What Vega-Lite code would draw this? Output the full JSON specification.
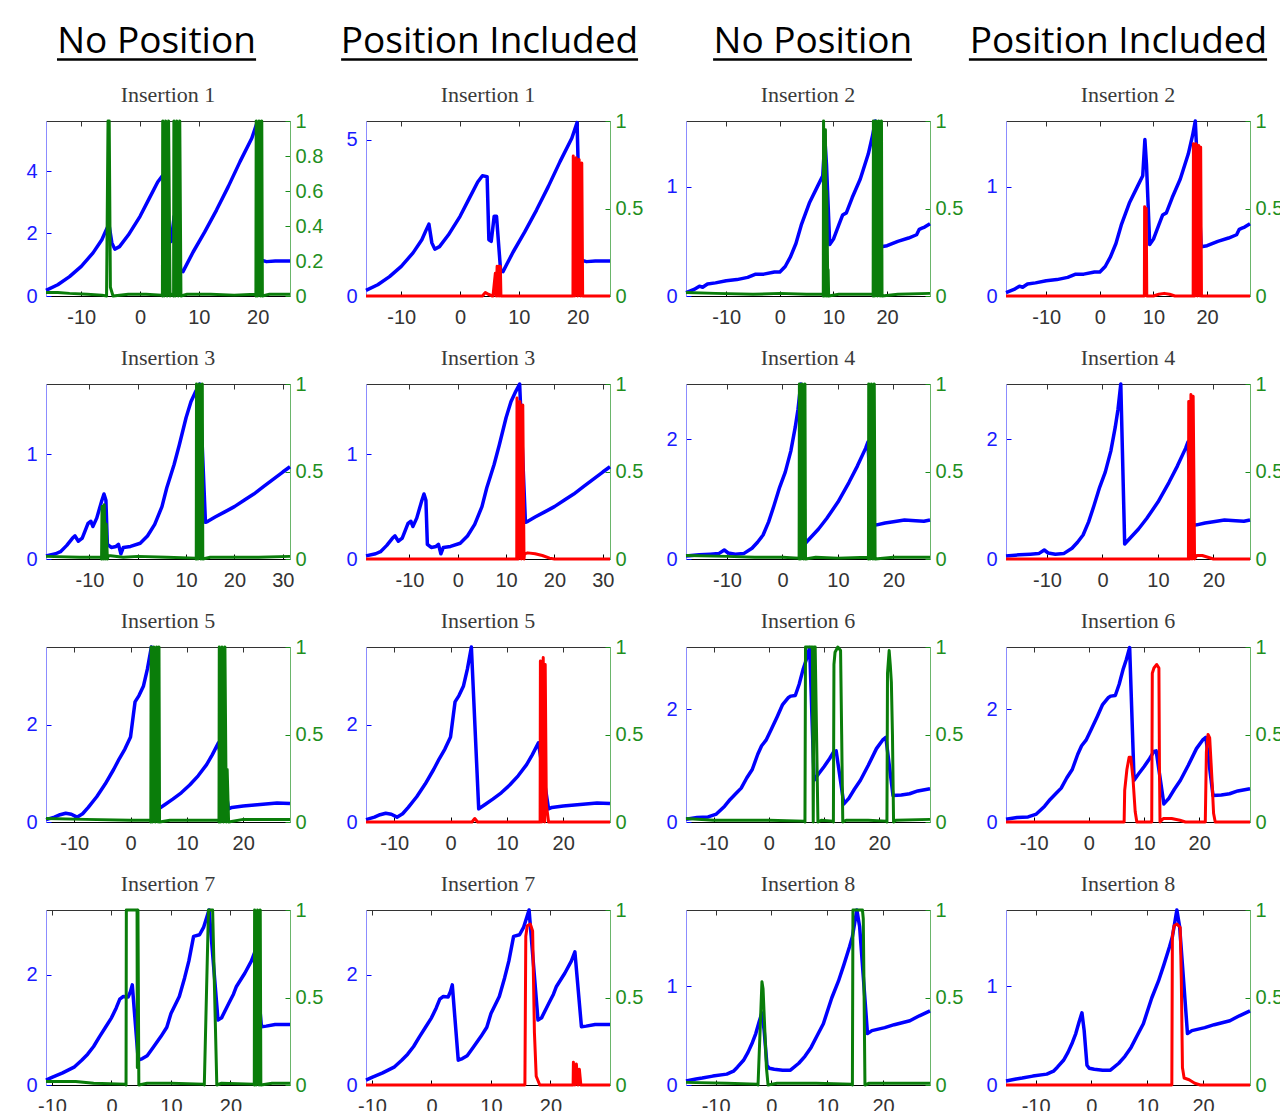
{
"$schema": "https://vega.github.io/schema/vega-lite/v6.json",
"padding": {"left": 25, "top": 8, "right": 5, "bottom": 5},
"background": "white",
"columns": 4,
"spacing": {"row": 88, "column": 76},
"bounds": "flush",
"datasets": {
"blue": [
{"i":1,"x":-16,"y":0.18},{"i":1,"x":-14,"y":0.36},{"i":1,"x":-12,"y":0.62},{"i":1,"x":-10,"y":0.95},{"i":1,"x":-8,"y":1.38},{"i":1,"x":-6.5,"y":1.8},{"i":1,"x":-5.8,"y":2.1},{"i":1,"x":-5.3,"y":2.3},{"i":1,"x":-4.8,"y":1.7},{"i":1,"x":-4.3,"y":1.5},{"i":1,"x":-3.5,"y":1.58},{"i":1,"x":-2,"y":1.95},{"i":1,"x":0,"y":2.55},{"i":1,"x":1.5,"y":3.1},{"i":1,"x":3,"y":3.65},{"i":1,"x":3.8,"y":3.85},{"i":1,"x":4.6,"y":3.82},{"i":1,"x":4.9,"y":1.8},{"i":1,"x":5.3,"y":1.75},{"i":1,"x":5.8,"y":2.55},{"i":1,"x":6.2,"y":2.55},{"i":1,"x":6.9,"y":0.8},{"i":1,"x":7.3,"y":0.78},{"i":1,"x":9,"y":1.4},{"i":1,"x":11,"y":2.05},{"i":1,"x":13,"y":2.75},{"i":1,"x":15,"y":3.5},{"i":1,"x":17,"y":4.3},{"i":1,"x":19,"y":5.05},{"i":1,"x":19.9,"y":5.55},{"i":1,"x":20.5,"y":1.15},{"i":1,"x":21.5,"y":1.1},{"i":1,"x":23,"y":1.12},{"i":1,"x":25.5,"y":1.12},
{"i":2,"x":-17.5,"y":0.03},{"i":2,"x":-16,"y":0.06},{"i":2,"x":-15,"y":0.09},{"i":2,"x":-14.4,"y":0.08},{"i":2,"x":-13.5,"y":0.11},{"i":2,"x":-12,"y":0.12},{"i":2,"x":-10,"y":0.14},{"i":2,"x":-8,"y":0.15},{"i":2,"x":-6,"y":0.17},{"i":2,"x":-4.5,"y":0.2},{"i":2,"x":-3,"y":0.2},{"i":2,"x":-1,"y":0.22},{"i":2,"x":0,"y":0.22},{"i":2,"x":1,"y":0.27},{"i":2,"x":2,"y":0.36},{"i":2,"x":3,"y":0.48},{"i":2,"x":4,"y":0.65},{"i":2,"x":5.5,"y":0.85},{"i":2,"x":7,"y":1.0},{"i":2,"x":8,"y":1.1},{"i":2,"x":8.4,"y":1.43},{"i":2,"x":8.7,"y":1.2},{"i":2,"x":9.3,"y":0.47},{"i":2,"x":10,"y":0.52},{"i":2,"x":11,"y":0.65},{"i":2,"x":11.7,"y":0.74},{"i":2,"x":12.4,"y":0.76},{"i":2,"x":13.5,"y":0.9},{"i":2,"x":15,"y":1.07},{"i":2,"x":16.5,"y":1.3},{"i":2,"x":17.3,"y":1.47},{"i":2,"x":17.8,"y":1.6},{"i":2,"x":18.9,"y":0.45},{"i":2,"x":20,"y":0.46},{"i":2,"x":22,"y":0.5},{"i":2,"x":24,"y":0.53},{"i":2,"x":25.5,"y":0.56},{"i":2,"x":26,"y":0.61},{"i":2,"x":26.5,"y":0.62},{"i":2,"x":27,"y":0.63},{"i":2,"x":28,"y":0.66},
{"i":3,"x":-19,"y":0.03},{"i":3,"x":-17,"y":0.05},{"i":3,"x":-16,"y":0.07},{"i":3,"x":-14.7,"y":0.13},{"i":3,"x":-13.5,"y":0.2},{"i":3,"x":-13,"y":0.22},{"i":3,"x":-12.3,"y":0.17},{"i":3,"x":-11.5,"y":0.2},{"i":3,"x":-10.3,"y":0.34},{"i":3,"x":-9.7,"y":0.36},{"i":3,"x":-9.3,"y":0.31},{"i":3,"x":-8.5,"y":0.39},{"i":3,"x":-7.5,"y":0.55},{"i":3,"x":-7,"y":0.62},{"i":3,"x":-6.6,"y":0.56},{"i":3,"x":-6.3,"y":0.14},{"i":3,"x":-5.5,"y":0.11},{"i":3,"x":-4.5,"y":0.12},{"i":3,"x":-4,"y":0.14},{"i":3,"x":-3.5,"y":0.05},{"i":3,"x":-3,"y":0.11},{"i":3,"x":-1.5,"y":0.12},{"i":3,"x":0.5,"y":0.15},{"i":3,"x":2,"y":0.22},{"i":3,"x":3.5,"y":0.33},{"i":3,"x":5,"y":0.5},{"i":3,"x":6,"y":0.68},{"i":3,"x":7.5,"y":0.9},{"i":3,"x":8.6,"y":1.09},{"i":3,"x":10,"y":1.35},{"i":3,"x":11,"y":1.5},{"i":3,"x":12,"y":1.6},{"i":3,"x":12.8,"y":1.67},{"i":3,"x":14,"y":0.35},{"i":3,"x":14.5,"y":0.36},{"i":3,"x":16,"y":0.4},{"i":3,"x":18,"y":0.45},{"i":3,"x":20,"y":0.5},{"i":3,"x":22,"y":0.56},{"i":3,"x":24,"y":0.62},{"i":3,"x":26,"y":0.69},{"i":3,"x":28,"y":0.76},{"i":3,"x":30,"y":0.83},{"i":3,"x":31.5,"y":0.88},
{"i":4,"x":-17.4,"y":0.05},{"i":4,"x":-15,"y":0.07},{"i":4,"x":-13,"y":0.08},{"i":4,"x":-11.5,"y":0.09},{"i":4,"x":-10.5,"y":0.15},{"i":4,"x":-9.8,"y":0.1},{"i":4,"x":-8.5,"y":0.08},{"i":4,"x":-7,"y":0.09},{"i":4,"x":-5.5,"y":0.18},{"i":4,"x":-4.5,"y":0.28},{"i":4,"x":-3.5,"y":0.4},{"i":4,"x":-2.5,"y":0.62},{"i":4,"x":-1.5,"y":0.9},{"i":4,"x":-0.5,"y":1.2},{"i":4,"x":0.5,"y":1.45},{"i":4,"x":1.5,"y":1.8},{"i":4,"x":2.3,"y":2.2},{"i":4,"x":2.8,"y":2.5},{"i":4,"x":3.3,"y":2.92},{"i":4,"x":4,"y":0.25},{"i":4,"x":5,"y":0.35},{"i":4,"x":6.5,"y":0.5},{"i":4,"x":8,"y":0.68},{"i":4,"x":10,"y":0.95},{"i":4,"x":12,"y":1.28},{"i":4,"x":13.5,"y":1.55},{"i":4,"x":15,"y":1.85},{"i":4,"x":15.4,"y":1.95},{"i":4,"x":16.2,"y":0.56},{"i":4,"x":17,"y":0.57},{"i":4,"x":18.5,"y":0.6},{"i":4,"x":20,"y":0.62},{"i":4,"x":22,"y":0.65},{"i":4,"x":24,"y":0.64},{"i":4,"x":25.5,"y":0.63},{"i":4,"x":26.6,"y":0.65},
{"i":5,"x":-15,"y":0.05},{"i":5,"x":-13.5,"y":0.1},{"i":5,"x":-12.5,"y":0.15},{"i":5,"x":-11.5,"y":0.18},{"i":5,"x":-10.5,"y":0.16},{"i":5,"x":-9.5,"y":0.1},{"i":5,"x":-8.5,"y":0.17},{"i":5,"x":-7.5,"y":0.3},{"i":5,"x":-6,"y":0.52},{"i":5,"x":-4.5,"y":0.78},{"i":5,"x":-3,"y":1.08},{"i":5,"x":-2,"y":1.3},{"i":5,"x":-1,"y":1.5},{"i":5,"x":0,"y":1.75},{"i":5,"x":0.5,"y":2.2},{"i":5,"x":0.8,"y":2.47},{"i":5,"x":1.5,"y":2.6},{"i":5,"x":2.3,"y":2.8},{"i":5,"x":3,"y":3.15},{"i":5,"x":3.7,"y":3.6},{"i":5,"x":5,"y":0.27},{"i":5,"x":6,"y":0.35},{"i":5,"x":7.5,"y":0.47},{"i":5,"x":9,"y":0.6},{"i":5,"x":10.5,"y":0.76},{"i":5,"x":12,"y":0.95},{"i":5,"x":13.5,"y":1.18},{"i":5,"x":14.5,"y":1.38},{"i":5,"x":15.6,"y":1.63},{"i":5,"x":17.4,"y":0.27},{"i":5,"x":18,"y":0.3},{"i":5,"x":20,"y":0.33},{"i":5,"x":22,"y":0.35},{"i":5,"x":24,"y":0.37},{"i":5,"x":26,"y":0.39},{"i":5,"x":28.3,"y":0.38},
{"i":6,"x":-15,"y":0.05},{"i":6,"x":-13,"y":0.08},{"i":6,"x":-11,"y":0.09},{"i":6,"x":-9.5,"y":0.14},{"i":6,"x":-8,"y":0.28},{"i":6,"x":-7,"y":0.4},{"i":6,"x":-6,"y":0.5},{"i":6,"x":-5,"y":0.6},{"i":6,"x":-4,"y":0.78},{"i":6,"x":-3,"y":0.93},{"i":6,"x":-2,"y":1.2},{"i":6,"x":-1.3,"y":1.35},{"i":6,"x":-0.5,"y":1.45},{"i":6,"x":0.5,"y":1.65},{"i":6,"x":1.5,"y":1.86},{"i":6,"x":2.5,"y":2.08},{"i":6,"x":3.5,"y":2.2},{"i":6,"x":4,"y":2.23},{"i":6,"x":4.8,"y":2.24},{"i":6,"x":5.5,"y":2.44},{"i":6,"x":6.2,"y":2.7},{"i":6,"x":6.8,"y":2.88},{"i":6,"x":7.4,"y":3.09},{"i":6,"x":8.2,"y":0.74},{"i":6,"x":9,"y":0.85},{"i":6,"x":10,"y":0.98},{"i":6,"x":11,"y":1.12},{"i":6,"x":11.8,"y":1.25},{"i":6,"x":12.2,"y":1.26},{"i":6,"x":13.6,"y":0.32},{"i":6,"x":14.5,"y":0.42},{"i":6,"x":15.5,"y":0.58},{"i":6,"x":16.6,"y":0.74},{"i":6,"x":18,"y":1.0},{"i":6,"x":19.5,"y":1.3},{"i":6,"x":20.6,"y":1.45},{"i":6,"x":21.2,"y":1.5},{"i":6,"x":22.5,"y":0.47},{"i":6,"x":24,"y":0.48},{"i":6,"x":25.5,"y":0.5},{"i":6,"x":27,"y":0.55},{"i":6,"x":29.2,"y":0.59},
{"i":7,"x":-11,"y":0.09},{"i":7,"x":-10,"y":0.14},{"i":7,"x":-8.2,"y":0.22},{"i":7,"x":-6.2,"y":0.33},{"i":7,"x":-5,"y":0.45},{"i":7,"x":-4,"y":0.56},{"i":7,"x":-3,"y":0.7},{"i":7,"x":-2,"y":0.88},{"i":7,"x":-1,"y":1.05},{"i":7,"x":0,"y":1.22},{"i":7,"x":0.8,"y":1.4},{"i":7,"x":1.4,"y":1.56},{"i":7,"x":2,"y":1.61},{"i":7,"x":2.8,"y":1.6},{"i":7,"x":3.2,"y":1.7},{"i":7,"x":3.5,"y":1.82},{"i":7,"x":4.5,"y":0.45},{"i":7,"x":5.2,"y":0.48},{"i":7,"x":6,"y":0.53},{"i":7,"x":7,"y":0.68},{"i":7,"x":8.3,"y":0.88},{"i":7,"x":9.3,"y":1.05},{"i":7,"x":10,"y":1.3},{"i":7,"x":11.4,"y":1.61},{"i":7,"x":12.3,"y":1.95},{"i":7,"x":13,"y":2.25},{"i":7,"x":13.8,"y":2.7},{"i":7,"x":14.8,"y":2.73},{"i":7,"x":15.5,"y":2.87},{"i":7,"x":16.4,"y":3.18},{"i":7,"x":17.9,"y":1.18},{"i":7,"x":18.5,"y":1.22},{"i":7,"x":19.7,"y":1.48},{"i":7,"x":20.5,"y":1.65},{"i":7,"x":21,"y":1.79},{"i":7,"x":22.4,"y":2.03},{"i":7,"x":23.5,"y":2.25},{"i":7,"x":24.1,"y":2.42},{"i":7,"x":25.2,"y":1.06},{"i":7,"x":26,"y":1.07},{"i":7,"x":27.5,"y":1.1},{"i":7,"x":30,"y":1.1},
{"i":8,"x":-15.3,"y":0.04},{"i":8,"x":-13.5,"y":0.06},{"i":8,"x":-12.4,"y":0.07},{"i":8,"x":-10.5,"y":0.09},{"i":8,"x":-8,"y":0.11},{"i":8,"x":-6.8,"y":0.14},{"i":8,"x":-6.1,"y":0.18},{"i":8,"x":-5,"y":0.25},{"i":8,"x":-4.2,"y":0.33},{"i":8,"x":-3.4,"y":0.43},{"i":8,"x":-2.8,"y":0.52},{"i":8,"x":-2.2,"y":0.64},{"i":8,"x":-1.7,"y":0.73},{"i":8,"x":-1.3,"y":0.55},{"i":8,"x":-0.8,"y":0.2},{"i":8,"x":-0.4,"y":0.17},{"i":8,"x":0.5,"y":0.16},{"i":8,"x":2,"y":0.15},{"i":8,"x":3.4,"y":0.15},{"i":8,"x":4.9,"y":0.22},{"i":8,"x":6,"y":0.29},{"i":8,"x":7.1,"y":0.38},{"i":8,"x":8.2,"y":0.5},{"i":8,"x":9.3,"y":0.62},{"i":8,"x":10.8,"y":0.88},{"i":8,"x":12,"y":1.05},{"i":8,"x":13,"y":1.22},{"i":8,"x":14,"y":1.4},{"i":8,"x":14.5,"y":1.5},{"i":8,"x":15.3,"y":1.77},{"i":8,"x":15.8,"y":1.6},{"i":8,"x":17.2,"y":0.52},{"i":8,"x":18,"y":0.55},{"i":8,"x":20.3,"y":0.58},{"i":8,"x":22,"y":0.61},{"i":8,"x":24.8,"y":0.65},{"i":8,"x":26.5,"y":0.7},{"i":8,"x":28.4,"y":0.75}
],
"prob": [
{"p":"1n","x":-16,"y":0.02},{"p":"1n","x":-14,"y":0.02},{"p":"1n","x":-12,"y":0.015},{"p":"1n","x":-9,"y":0.01},{"p":"1n","x":-6.5,"y":0.005},{"p":"1n","x":-5.7,"y":0},{"p":"1n","x":-5.45,"y":1},{"p":"1n","x":-5.25,"y":1},{"p":"1n","x":-5.05,"y":0.05},{"p":"1n","x":-4.6,"y":0},{"p":"1n","x":-2,"y":0.01},{"p":"1n","x":1,"y":0.01},{"p":"1n","x":3.7,"y":0.005},{"p":"1n","x":3.8,"y":0},{"p":"1n","x":3.85,"y":1},{"p":"1n","x":4.1,"y":0},{"p":"1n","x":4.35,"y":1},{"p":"1n","x":4.6,"y":0},{"p":"1n","x":4.85,"y":1},{"p":"1n","x":5.1,"y":0},{"p":"1n","x":5.4,"y":0.01},{"p":"1n","x":5.7,"y":0},{"p":"1n","x":5.75,"y":1},{"p":"1n","x":6.0,"y":0},{"p":"1n","x":6.25,"y":1},{"p":"1n","x":6.5,"y":0},{"p":"1n","x":6.75,"y":1},{"p":"1n","x":6.95,"y":0},{"p":"1n","x":8,"y":0.01},{"p":"1n","x":12,"y":0.01},{"p":"1n","x":16,"y":0.005},{"p":"1n","x":19.6,"y":0.01},{"p":"1n","x":19.7,"y":0},{"p":"1n","x":19.75,"y":1},{"p":"1n","x":20.0,"y":0},{"p":"1n","x":20.25,"y":1},{"p":"1n","x":20.5,"y":0},{"p":"1n","x":20.7,"y":1},{"p":"1n","x":20.8,"y":0},{"p":"1n","x":22,"y":0.01},{"p":"1n","x":25.5,"y":0.01},
{"p":"1p","x":-16,"y":0},{"p":"1p","x":3.8,"y":0},{"p":"1p","x":4.3,"y":0.02},{"p":"1p","x":4.8,"y":0.01},{"p":"1p","x":5.5,"y":0},{"p":"1p","x":5.6,"y":0},{"p":"1p","x":6.0,"y":0.13},{"p":"1p","x":6.15,"y":0},{"p":"1p","x":6.3,"y":0.17},{"p":"1p","x":6.45,"y":0},{"p":"1p","x":6.6,"y":0.17},{"p":"1p","x":6.75,"y":0},{"p":"1p","x":6.85,"y":0.17},{"p":"1p","x":6.95,"y":0},{"p":"1p","x":7.5,"y":0},{"p":"1p","x":19.2,"y":0},{"p":"1p","x":19.25,"y":0.8},{"p":"1p","x":19.5,"y":0},{"p":"1p","x":19.75,"y":0.79},{"p":"1p","x":20.0,"y":0},{"p":"1p","x":20.25,"y":0.78},{"p":"1p","x":20.5,"y":0},{"p":"1p","x":20.7,"y":0.76},{"p":"1p","x":20.85,"y":0},{"p":"1p","x":25.5,"y":0},
{"p":"2n","x":-17.5,"y":0.02},{"p":"2n","x":-12,"y":0.015},{"p":"2n","x":-5,"y":0.01},{"p":"2n","x":0,"y":0.015},{"p":"2n","x":5,"y":0.01},{"p":"2n","x":8.0,"y":0.01},{"p":"2n","x":8.1,"y":0},{"p":"2n","x":8.15,"y":1},{"p":"2n","x":8.4,"y":0},{"p":"2n","x":8.5,"y":0.95},{"p":"2n","x":8.7,"y":0},{"p":"2n","x":8.75,"y":0.6},{"p":"2n","x":8.95,"y":0},{"p":"2n","x":9.0,"y":0.15},{"p":"2n","x":9.1,"y":0},{"p":"2n","x":11,"y":0.01},{"p":"2n","x":15,"y":0.01},{"p":"2n","x":17.3,"y":0.01},{"p":"2n","x":17.4,"y":0},{"p":"2n","x":17.45,"y":1},{"p":"2n","x":17.7,"y":0},{"p":"2n","x":17.95,"y":1},{"p":"2n","x":18.2,"y":0},{"p":"2n","x":18.45,"y":1},{"p":"2n","x":18.7,"y":0},{"p":"2n","x":18.95,"y":1},{"p":"2n","x":19.05,"y":0},{"p":"2n","x":22,"y":0.01},{"p":"2n","x":28,"y":0.015},
{"p":"2p","x":-17.5,"y":0},{"p":"2p","x":8.2,"y":0},{"p":"2p","x":8.3,"y":0},{"p":"2p","x":8.35,"y":0.51},{"p":"2p","x":8.55,"y":0.1},{"p":"2p","x":8.65,"y":0.5},{"p":"2p","x":8.75,"y":0},{"p":"2p","x":10,"y":0},{"p":"2p","x":11,"y":0.01},{"p":"2p","x":12,"y":0.015},{"p":"2p","x":13,"y":0.01},{"p":"2p","x":14,"y":0},{"p":"2p","x":17.3,"y":0},{"p":"2p","x":17.4,"y":0},{"p":"2p","x":17.45,"y":0.87},{"p":"2p","x":17.7,"y":0},{"p":"2p","x":17.95,"y":0.87},{"p":"2p","x":18.2,"y":0},{"p":"2p","x":18.45,"y":0.86},{"p":"2p","x":18.7,"y":0},{"p":"2p","x":18.8,"y":0.85},{"p":"2p","x":18.95,"y":0},{"p":"2p","x":28,"y":0},
{"p":"3n","x":-19,"y":0.015},{"p":"3n","x":-12,"y":0.01},{"p":"3n","x":-7.6,"y":0.01},{"p":"3n","x":-7.5,"y":0},{"p":"3n","x":-7.4,"y":0.3},{"p":"3n","x":-7.15,"y":0},{"p":"3n","x":-6.95,"y":0.31},{"p":"3n","x":-6.75,"y":0},{"p":"3n","x":-6.55,"y":0.2},{"p":"3n","x":-6.3,"y":0},{"p":"3n","x":-6.1,"y":0.02},{"p":"3n","x":-3,"y":0.01},{"p":"3n","x":0,"y":0.015},{"p":"3n","x":6,"y":0.01},{"p":"3n","x":12,"y":0.005},{"p":"3n","x":12.1,"y":0},{"p":"3n","x":12.15,"y":1},{"p":"3n","x":12.45,"y":0},{"p":"3n","x":12.75,"y":1},{"p":"3n","x":13.05,"y":0},{"p":"3n","x":13.35,"y":1},{"p":"3n","x":13.45,"y":0},{"p":"3n","x":15,"y":0.01},{"p":"3n","x":25,"y":0.01},{"p":"3n","x":31.5,"y":0.015},
{"p":"3p","x":-19,"y":0},{"p":"3p","x":12.1,"y":0},{"p":"3p","x":12.2,"y":0},{"p":"3p","x":12.25,"y":0.92},{"p":"3p","x":12.55,"y":0},{"p":"3p","x":12.85,"y":0.9},{"p":"3p","x":13.15,"y":0},{"p":"3p","x":13.45,"y":0.88},{"p":"3p","x":13.7,"y":0},{"p":"3p","x":13.8,"y":0.03},{"p":"3p","x":14.5,"y":0.035},{"p":"3p","x":16,"y":0.03},{"p":"3p","x":17.5,"y":0.02},{"p":"3p","x":19,"y":0.005},{"p":"3p","x":20,"y":0},{"p":"3p","x":31.5,"y":0},
{"p":"4n","x":-17.4,"y":0.02},{"p":"4n","x":-10,"y":0.015},{"p":"4n","x":-5,"y":0.01},{"p":"4n","x":0,"y":0.01},{"p":"4n","x":2.9,"y":0.005},{"p":"4n","x":3.0,"y":0},{"p":"4n","x":3.05,"y":1},{"p":"4n","x":3.3,"y":0},{"p":"4n","x":3.55,"y":1},{"p":"4n","x":3.8,"y":0},{"p":"4n","x":4.05,"y":1},{"p":"4n","x":4.15,"y":0},{"p":"4n","x":6,"y":0.01},{"p":"4n","x":10,"y":0.005},{"p":"4n","x":15.4,"y":0.01},{"p":"4n","x":15.5,"y":0},{"p":"4n","x":15.55,"y":1},{"p":"4n","x":15.8,"y":0},{"p":"4n","x":16.05,"y":1},{"p":"4n","x":16.3,"y":0},{"p":"4n","x":16.55,"y":1},{"p":"4n","x":16.7,"y":0},{"p":"4n","x":20,"y":0.01},{"p":"4n","x":26.6,"y":0.01},
{"p":"4p","x":-17.4,"y":0},{"p":"4p","x":15.4,"y":0},{"p":"4p","x":15.5,"y":0},{"p":"4p","x":15.55,"y":0.9},{"p":"4p","x":15.75,"y":0},{"p":"4p","x":15.95,"y":0.94},{"p":"4p","x":16.15,"y":0},{"p":"4p","x":16.35,"y":0.93},{"p":"4p","x":16.5,"y":0.4},{"p":"4p","x":16.6,"y":0},{"p":"4p","x":17,"y":0.02},{"p":"4p","x":18,"y":0.02},{"p":"4p","x":19,"y":0.01},{"p":"4p","x":20,"y":0},{"p":"4p","x":26.6,"y":0},
{"p":"5n","x":-15,"y":0.02},{"p":"5n","x":-8,"y":0.015},{"p":"5n","x":0,"y":0.01},{"p":"5n","x":3.5,"y":0.01},{"p":"5n","x":3.6,"y":0},{"p":"5n","x":3.65,"y":1},{"p":"5n","x":3.9,"y":0},{"p":"5n","x":4.15,"y":1},{"p":"5n","x":4.4,"y":0},{"p":"5n","x":4.65,"y":1},{"p":"5n","x":4.9,"y":0},{"p":"5n","x":5.05,"y":1},{"p":"5n","x":5.15,"y":0},{"p":"5n","x":7,"y":0.01},{"p":"5n","x":12,"y":0.01},{"p":"5n","x":15.6,"y":0.01},{"p":"5n","x":15.7,"y":0},{"p":"5n","x":15.75,"y":1},{"p":"5n","x":16.0,"y":0},{"p":"5n","x":16.25,"y":1},{"p":"5n","x":16.5,"y":0},{"p":"5n","x":16.75,"y":1},{"p":"5n","x":17.0,"y":0},{"p":"5n","x":17.15,"y":0.3},{"p":"5n","x":17.4,"y":0},{"p":"5n","x":20,"y":0.015},{"p":"5n","x":28.3,"y":0.015},
{"p":"5p","x":-15,"y":0},{"p":"5p","x":3.8,"y":0},{"p":"5p","x":4.3,"y":0.02},{"p":"5p","x":4.8,"y":0},{"p":"5p","x":15.8,"y":0},{"p":"5p","x":15.9,"y":0},{"p":"5p","x":15.95,"y":0.92},{"p":"5p","x":16.2,"y":0},{"p":"5p","x":16.45,"y":0.94},{"p":"5p","x":16.7,"y":0},{"p":"5p","x":16.8,"y":0.9},{"p":"5p","x":17.0,"y":0.1},{"p":"5p","x":17.4,"y":0},{"p":"5p","x":28.3,"y":0},
{"p":"6n","x":-15,"y":0.02},{"p":"6n","x":-10,"y":0.01},{"p":"6n","x":0,"y":0.01},{"p":"6n","x":6.5,"y":0.005},{"p":"6n","x":6.55,"y":0},{"p":"6n","x":6.65,"y":1},{"p":"6n","x":7.9,"y":1},{"p":"6n","x":8.05,"y":0},{"p":"6n","x":8.2,"y":1},{"p":"6n","x":8.4,"y":1},{"p":"6n","x":8.9,"y":0},{"p":"6n","x":9.5,"y":0.01},{"p":"6n","x":11.6,"y":0.005},{"p":"6n","x":11.7,"y":0},{"p":"6n","x":11.8,"y":0.9},{"p":"6n","x":12.0,"y":0.97},{"p":"6n","x":12.5,"y":1},{"p":"6n","x":13.0,"y":0.98},{"p":"6n","x":13.2,"y":0.5},{"p":"6n","x":13.4,"y":0},{"p":"6n","x":14,"y":0.01},{"p":"6n","x":18,"y":0.01},{"p":"6n","x":21.3,"y":0.005},{"p":"6n","x":21.4,"y":0},{"p":"6n","x":21.5,"y":0.85},{"p":"6n","x":21.8,"y":0.98},{"p":"6n","x":22.0,"y":0.9},{"p":"6n","x":22.2,"y":0.8},{"p":"6n","x":22.4,"y":0.5},{"p":"6n","x":22.6,"y":0},{"p":"6n","x":23,"y":0.01},{"p":"6n","x":29.2,"y":0.015},
{"p":"6p","x":-15,"y":0},{"p":"6p","x":6.3,"y":0},{"p":"6p","x":6.4,"y":0},{"p":"6p","x":6.5,"y":0.18},{"p":"6p","x":6.9,"y":0.3},{"p":"6p","x":7.3,"y":0.37},{"p":"6p","x":7.6,"y":0.37},{"p":"6p","x":8.0,"y":0.25},{"p":"6p","x":8.4,"y":0.06},{"p":"6p","x":8.7,"y":0},{"p":"6p","x":11.3,"y":0},{"p":"6p","x":11.4,"y":0},{"p":"6p","x":11.5,"y":0.85},{"p":"6p","x":11.8,"y":0.88},{"p":"6p","x":12.3,"y":0.9},{"p":"6p","x":12.7,"y":0.88},{"p":"6p","x":12.8,"y":0.3},{"p":"6p","x":12.9,"y":0},{"p":"6p","x":13.5,"y":0.02},{"p":"6p","x":15,"y":0.02},{"p":"6p","x":16.5,"y":0.01},{"p":"6p","x":17.5,"y":0},{"p":"6p","x":21.0,"y":0},{"p":"6p","x":21.1,"y":0},{"p":"6p","x":21.3,"y":0.4},{"p":"6p","x":21.6,"y":0.5},{"p":"6p","x":21.9,"y":0.48},{"p":"6p","x":22.3,"y":0.25},{"p":"6p","x":22.6,"y":0.05},{"p":"6p","x":22.9,"y":0},{"p":"6p","x":29.2,"y":0},
{"p":"7n","x":-11,"y":0.02},{"p":"7n","x":-6,"y":0.02},{"p":"7n","x":-3,"y":0.01},{"p":"7n","x":2.4,"y":0.005},{"p":"7n","x":2.45,"y":0},{"p":"7n","x":2.5,"y":1},{"p":"7n","x":4.3,"y":1},{"p":"7n","x":4.35,"y":0.1},{"p":"7n","x":4.45,"y":1},{"p":"7n","x":4.6,"y":0},{"p":"7n","x":6,"y":0.01},{"p":"7n","x":10,"y":0.01},{"p":"7n","x":15.5,"y":0.005},{"p":"7n","x":15.6,"y":0},{"p":"7n","x":16.3,"y":1},{"p":"7n","x":17.0,"y":1},{"p":"7n","x":17.7,"y":0},{"p":"7n","x":18.5,"y":0.01},{"p":"7n","x":23.9,"y":0.005},{"p":"7n","x":24.0,"y":0},{"p":"7n","x":24.05,"y":1},{"p":"7n","x":24.3,"y":0},{"p":"7n","x":24.55,"y":1},{"p":"7n","x":24.8,"y":0},{"p":"7n","x":25.0,"y":1},{"p":"7n","x":25.1,"y":0},{"p":"7n","x":27,"y":0.01},{"p":"7n","x":30,"y":0.01},
{"p":"7p","x":-11,"y":0},{"p":"7p","x":15.6,"y":0},{"p":"7p","x":15.7,"y":0},{"p":"7p","x":15.85,"y":0.85},{"p":"7p","x":16.1,"y":0.91},{"p":"7p","x":16.6,"y":0.92},{"p":"7p","x":17.0,"y":0.88},{"p":"7p","x":17.3,"y":0.3},{"p":"7p","x":17.6,"y":0.05},{"p":"7p","x":18.2,"y":0},{"p":"7p","x":23.7,"y":0},{"p":"7p","x":23.8,"y":0},{"p":"7p","x":23.85,"y":0.13},{"p":"7p","x":24.1,"y":0},{"p":"7p","x":24.35,"y":0.12},{"p":"7p","x":24.6,"y":0},{"p":"7p","x":24.85,"y":0.09},{"p":"7p","x":25.1,"y":0},{"p":"7p","x":30,"y":0},
{"p":"8n","x":-15.3,"y":0.015},{"p":"8n","x":-8,"y":0.01},{"p":"8n","x":-2.5,"y":0.005},{"p":"8n","x":-2.4,"y":0},{"p":"8n","x":-1.7,"y":0.59},{"p":"8n","x":-1.5,"y":0.55},{"p":"8n","x":-0.9,"y":0.1},{"p":"8n","x":-0.6,"y":0},{"p":"8n","x":1,"y":0.01},{"p":"8n","x":8,"y":0.01},{"p":"8n","x":14.4,"y":0.005},{"p":"8n","x":14.5,"y":0},{"p":"8n","x":14.6,"y":1},{"p":"8n","x":16.3,"y":1},{"p":"8n","x":16.45,"y":0.95},{"p":"8n","x":16.6,"y":0.5},{"p":"8n","x":16.75,"y":0},{"p":"8n","x":17.5,"y":0.01},{"p":"8n","x":22,"y":0.01},{"p":"8n","x":28.4,"y":0.01},
{"p":"8p","x":-15.3,"y":0},{"p":"8p","x":14.3,"y":0},{"p":"8p","x":14.4,"y":0},{"p":"8p","x":14.5,"y":0.85},{"p":"8p","x":14.8,"y":0.91},{"p":"8p","x":15.3,"y":0.92},{"p":"8p","x":15.9,"y":0.9},{"p":"8p","x":16.1,"y":0.6},{"p":"8p","x":16.3,"y":0.1},{"p":"8p","x":16.6,"y":0.04},{"p":"8p","x":17.5,"y":0.03},{"p":"8p","x":18.5,"y":0.01},{"p":"8p","x":19.5,"y":0},{"p":"8p","x":28.4,"y":0}
]
},
"concat": [
{"width":244,"height":25,"data":{"values":[{"label":"No Position"}]},"layer":[
 {"mark":{"type":"text","font":"Open Sans","fontSize":37,"color":"#000","baseline":"alphabetic","align":"center"},"encoding":{"text":{"field":"label"},"x":{"datum":0.453,"type":"quantitative","scale":{"domain":[0,1]},"axis":null},"y":{"datum":-0.8,"type":"quantitative","scale":{"domain":[0,1]},"axis":null}}},
 {"mark":{"type":"rule","color":"#000","strokeWidth":2.5},"encoding":{"x":{"datum":0.045,"type":"quantitative","scale":{"domain":[0,1]},"axis":null},"x2":{"datum":0.861},"y":{"datum":-1.06,"type":"quantitative","scale":{"domain":[0,1]},"axis":null}}}
]},
{"width":244,"height":25,"data":{"values":[{"label":"Position Included"}]},"layer":[
 {"mark":{"type":"text","font":"Open Sans","fontSize":37,"color":"#000","baseline":"alphabetic","align":"center"},"encoding":{"text":{"field":"label"},"x":{"datum":0.506,"type":"quantitative","scale":{"domain":[0,1]},"axis":null},"y":{"datum":-0.8,"type":"quantitative","scale":{"domain":[0,1]},"axis":null}}},
 {"mark":{"type":"rule","color":"#000","strokeWidth":2.5},"encoding":{"x":{"datum":-0.102,"type":"quantitative","scale":{"domain":[0,1]},"axis":null},"x2":{"datum":1.115},"y":{"datum":-1.06,"type":"quantitative","scale":{"domain":[0,1]},"axis":null}}}
]},
{"width":244,"height":25,"data":{"values":[{"label":"No Position"}]},"layer":[
 {"mark":{"type":"text","font":"Open Sans","fontSize":37,"color":"#000","baseline":"alphabetic","align":"center"},"encoding":{"text":{"field":"label"},"x":{"datum":0.52,"type":"quantitative","scale":{"domain":[0,1]},"axis":null},"y":{"datum":-0.8,"type":"quantitative","scale":{"domain":[0,1]},"axis":null}}},
 {"mark":{"type":"rule","color":"#000","strokeWidth":2.5},"encoding":{"x":{"datum":0.111,"type":"quantitative","scale":{"domain":[0,1]},"axis":null},"x2":{"datum":0.926},"y":{"datum":-1.06,"type":"quantitative","scale":{"domain":[0,1]},"axis":null}}}
]},
{"width":244,"height":25,"data":{"values":[{"label":"Position Included"}]},"layer":[
 {"mark":{"type":"text","font":"Open Sans","fontSize":37,"color":"#000","baseline":"alphabetic","align":"center"},"encoding":{"text":{"field":"label"},"x":{"datum":0.461,"type":"quantitative","scale":{"domain":[0,1]},"axis":null},"y":{"datum":-0.8,"type":"quantitative","scale":{"domain":[0,1]},"axis":null}}},
 {"mark":{"type":"rule","color":"#000","strokeWidth":2.5},"encoding":{"x":{"datum":-0.152,"type":"quantitative","scale":{"domain":[0,1]},"axis":null},"x2":{"datum":1.07},"y":{"datum":-1.06,"type":"quantitative","scale":{"domain":[0,1]},"axis":null}}}
]},

{"width":244,"height":175,"title":"Insertion 1","layer":[
 {"data":{"name":"blue"},"transform":[{"filter":"datum.i==1"}],"mark":{"type":"line","color":"#0000ff","strokeWidth":3.5,"strokeJoin":"round"},"encoding":{"x":{"field":"x","type":"quantitative","scale":{"domain":[-16,25.5],"nice":false,"zero":false},"axis":{"values":[-10,0,10,20]}},"y":{"field":"y","type":"quantitative","scale":{"domain":[0,5.6],"nice":false},"axis":{"orient":"left","values":[0,2,4]}}}},
 {"data":{"name":"prob"},"transform":[{"filter":"datum.p=='1n'"}],"mark":{"type":"line","color":"#0a7d0a","strokeWidth":3,"strokeJoin":"round"},"encoding":{"x":{"field":"x","type":"quantitative","scale":{"domain":[-16,25.5],"nice":false,"zero":false},"axis":{"orient":"top","values":[-10,0,10,20]}},"y":{"field":"y","type":"quantitative","scale":{"domain":[0,1],"nice":false},"axis":{"orient":"right","values":[0,0.2,0.4,0.6,0.8,1],"format":"~g"}}}}
],"resolve":{"scale":{"y":"independent"},"axis":{"x":"independent"}}},
{"width":244,"height":175,"title":"Insertion 1","layer":[
 {"data":{"name":"blue"},"transform":[{"filter":"datum.i==1"}],"mark":{"type":"line","color":"#0000ff","strokeWidth":3.5,"strokeJoin":"round"},"encoding":{"x":{"field":"x","type":"quantitative","scale":{"domain":[-16,25.5],"nice":false,"zero":false},"axis":{"values":[-10,0,10,20]}},"y":{"field":"y","type":"quantitative","scale":{"domain":[0,5.6],"nice":false},"axis":{"orient":"left","values":[0,5]}}}},
 {"data":{"name":"prob"},"transform":[{"filter":"datum.p=='1p'"}],"mark":{"type":"line","color":"#ff0000","strokeWidth":3,"strokeJoin":"round"},"encoding":{"x":{"field":"x","type":"quantitative","scale":{"domain":[-16,25.5],"nice":false,"zero":false},"axis":{"orient":"top","values":[-10,0,10,20]}},"y":{"field":"y","type":"quantitative","scale":{"domain":[0,1],"nice":false},"axis":{"orient":"right","values":[0,0.5,1],"format":"~g"}}}}
],"resolve":{"scale":{"y":"independent"},"axis":{"x":"independent"}}},
{"width":244,"height":175,"title":"Insertion 2","layer":[
 {"data":{"name":"blue"},"transform":[{"filter":"datum.i==2"}],"mark":{"type":"line","color":"#0000ff","strokeWidth":3.5,"strokeJoin":"round"},"encoding":{"x":{"field":"x","type":"quantitative","scale":{"domain":[-17.5,28],"nice":false,"zero":false},"axis":{"values":[-10,0,10,20]}},"y":{"field":"y","type":"quantitative","scale":{"domain":[0,1.6],"nice":false},"axis":{"orient":"left","values":[0,1]}}}},
 {"data":{"name":"prob"},"transform":[{"filter":"datum.p=='2n'"}],"mark":{"type":"line","color":"#0a7d0a","strokeWidth":3,"strokeJoin":"round"},"encoding":{"x":{"field":"x","type":"quantitative","scale":{"domain":[-17.5,28],"nice":false,"zero":false},"axis":{"orient":"top","values":[-10,0,10,20]}},"y":{"field":"y","type":"quantitative","scale":{"domain":[0,1],"nice":false},"axis":{"orient":"right","values":[0,0.5,1],"format":"~g"}}}}
],"resolve":{"scale":{"y":"independent"},"axis":{"x":"independent"}}},
{"width":244,"height":175,"title":"Insertion 2","layer":[
 {"data":{"name":"blue"},"transform":[{"filter":"datum.i==2"}],"mark":{"type":"line","color":"#0000ff","strokeWidth":3.5,"strokeJoin":"round"},"encoding":{"x":{"field":"x","type":"quantitative","scale":{"domain":[-17.5,28],"nice":false,"zero":false},"axis":{"values":[-10,0,10,20]}},"y":{"field":"y","type":"quantitative","scale":{"domain":[0,1.6],"nice":false},"axis":{"orient":"left","values":[0,1]}}}},
 {"data":{"name":"prob"},"transform":[{"filter":"datum.p=='2p'"}],"mark":{"type":"line","color":"#ff0000","strokeWidth":3,"strokeJoin":"round"},"encoding":{"x":{"field":"x","type":"quantitative","scale":{"domain":[-17.5,28],"nice":false,"zero":false},"axis":{"orient":"top","values":[-10,0,10,20]}},"y":{"field":"y","type":"quantitative","scale":{"domain":[0,1],"nice":false},"axis":{"orient":"right","values":[0,0.5,1],"format":"~g"}}}}
],"resolve":{"scale":{"y":"independent"},"axis":{"x":"independent"}}},

{"width":244,"height":175,"title":"Insertion 3","layer":[
 {"data":{"name":"blue"},"transform":[{"filter":"datum.i==3"}],"mark":{"type":"line","color":"#0000ff","strokeWidth":3.5,"strokeJoin":"round"},"encoding":{"x":{"field":"x","type":"quantitative","scale":{"domain":[-19,31.5],"nice":false,"zero":false},"axis":{"values":[-10,0,10,20,30]}},"y":{"field":"y","type":"quantitative","scale":{"domain":[0,1.67],"nice":false},"axis":{"orient":"left","values":[0,1]}}}},
 {"data":{"name":"prob"},"transform":[{"filter":"datum.p=='3n'"}],"mark":{"type":"line","color":"#0a7d0a","strokeWidth":3,"strokeJoin":"round"},"encoding":{"x":{"field":"x","type":"quantitative","scale":{"domain":[-19,31.5],"nice":false,"zero":false},"axis":{"orient":"top","values":[-10,0,10,20,30]}},"y":{"field":"y","type":"quantitative","scale":{"domain":[0,1],"nice":false},"axis":{"orient":"right","values":[0,0.5,1],"format":"~g"}}}}
],"resolve":{"scale":{"y":"independent"},"axis":{"x":"independent"}}},
{"width":244,"height":175,"title":"Insertion 3","layer":[
 {"data":{"name":"blue"},"transform":[{"filter":"datum.i==3"}],"mark":{"type":"line","color":"#0000ff","strokeWidth":3.5,"strokeJoin":"round"},"encoding":{"x":{"field":"x","type":"quantitative","scale":{"domain":[-19,31.5],"nice":false,"zero":false},"axis":{"values":[-10,0,10,20,30]}},"y":{"field":"y","type":"quantitative","scale":{"domain":[0,1.67],"nice":false},"axis":{"orient":"left","values":[0,1]}}}},
 {"data":{"name":"prob"},"transform":[{"filter":"datum.p=='3p'"}],"mark":{"type":"line","color":"#ff0000","strokeWidth":3,"strokeJoin":"round"},"encoding":{"x":{"field":"x","type":"quantitative","scale":{"domain":[-19,31.5],"nice":false,"zero":false},"axis":{"orient":"top","values":[-10,0,10,20,30]}},"y":{"field":"y","type":"quantitative","scale":{"domain":[0,1],"nice":false},"axis":{"orient":"right","values":[0,0.5,1],"format":"~g"}}}}
],"resolve":{"scale":{"y":"independent"},"axis":{"x":"independent"}}},
{"width":244,"height":175,"title":"Insertion 4","layer":[
 {"data":{"name":"blue"},"transform":[{"filter":"datum.i==4"}],"mark":{"type":"line","color":"#0000ff","strokeWidth":3.5,"strokeJoin":"round"},"encoding":{"x":{"field":"x","type":"quantitative","scale":{"domain":[-17.4,26.6],"nice":false,"zero":false},"axis":{"values":[-10,0,10,20]}},"y":{"field":"y","type":"quantitative","scale":{"domain":[0,2.92],"nice":false},"axis":{"orient":"left","values":[0,2]}}}},
 {"data":{"name":"prob"},"transform":[{"filter":"datum.p=='4n'"}],"mark":{"type":"line","color":"#0a7d0a","strokeWidth":3,"strokeJoin":"round"},"encoding":{"x":{"field":"x","type":"quantitative","scale":{"domain":[-17.4,26.6],"nice":false,"zero":false},"axis":{"orient":"top","values":[-10,0,10,20]}},"y":{"field":"y","type":"quantitative","scale":{"domain":[0,1],"nice":false},"axis":{"orient":"right","values":[0,0.5,1],"format":"~g"}}}}
],"resolve":{"scale":{"y":"independent"},"axis":{"x":"independent"}}},
{"width":244,"height":175,"title":"Insertion 4","layer":[
 {"data":{"name":"blue"},"transform":[{"filter":"datum.i==4"}],"mark":{"type":"line","color":"#0000ff","strokeWidth":3.5,"strokeJoin":"round"},"encoding":{"x":{"field":"x","type":"quantitative","scale":{"domain":[-17.4,26.6],"nice":false,"zero":false},"axis":{"values":[-10,0,10,20]}},"y":{"field":"y","type":"quantitative","scale":{"domain":[0,2.92],"nice":false},"axis":{"orient":"left","values":[0,2]}}}},
 {"data":{"name":"prob"},"transform":[{"filter":"datum.p=='4p'"}],"mark":{"type":"line","color":"#ff0000","strokeWidth":3,"strokeJoin":"round"},"encoding":{"x":{"field":"x","type":"quantitative","scale":{"domain":[-17.4,26.6],"nice":false,"zero":false},"axis":{"orient":"top","values":[-10,0,10,20]}},"y":{"field":"y","type":"quantitative","scale":{"domain":[0,1],"nice":false},"axis":{"orient":"right","values":[0,0.5,1],"format":"~g"}}}}
],"resolve":{"scale":{"y":"independent"},"axis":{"x":"independent"}}},

{"width":244,"height":175,"title":"Insertion 5","layer":[
 {"data":{"name":"blue"},"transform":[{"filter":"datum.i==5"}],"mark":{"type":"line","color":"#0000ff","strokeWidth":3.5,"strokeJoin":"round"},"encoding":{"x":{"field":"x","type":"quantitative","scale":{"domain":[-15,28.3],"nice":false,"zero":false},"axis":{"values":[-10,0,10,20]}},"y":{"field":"y","type":"quantitative","scale":{"domain":[0,3.6],"nice":false},"axis":{"orient":"left","values":[0,2]}}}},
 {"data":{"name":"prob"},"transform":[{"filter":"datum.p=='5n'"}],"mark":{"type":"line","color":"#0a7d0a","strokeWidth":3,"strokeJoin":"round"},"encoding":{"x":{"field":"x","type":"quantitative","scale":{"domain":[-15,28.3],"nice":false,"zero":false},"axis":{"orient":"top","values":[-10,0,10,20]}},"y":{"field":"y","type":"quantitative","scale":{"domain":[0,1],"nice":false},"axis":{"orient":"right","values":[0,0.5,1],"format":"~g"}}}}
],"resolve":{"scale":{"y":"independent"},"axis":{"x":"independent"}}},
{"width":244,"height":175,"title":"Insertion 5","layer":[
 {"data":{"name":"blue"},"transform":[{"filter":"datum.i==5"}],"mark":{"type":"line","color":"#0000ff","strokeWidth":3.5,"strokeJoin":"round"},"encoding":{"x":{"field":"x","type":"quantitative","scale":{"domain":[-15,28.3],"nice":false,"zero":false},"axis":{"values":[-10,0,10,20]}},"y":{"field":"y","type":"quantitative","scale":{"domain":[0,3.6],"nice":false},"axis":{"orient":"left","values":[0,2]}}}},
 {"data":{"name":"prob"},"transform":[{"filter":"datum.p=='5p'"}],"mark":{"type":"line","color":"#ff0000","strokeWidth":3,"strokeJoin":"round"},"encoding":{"x":{"field":"x","type":"quantitative","scale":{"domain":[-15,28.3],"nice":false,"zero":false},"axis":{"orient":"top","values":[-10,0,10,20]}},"y":{"field":"y","type":"quantitative","scale":{"domain":[0,1],"nice":false},"axis":{"orient":"right","values":[0,0.5,1],"format":"~g"}}}}
],"resolve":{"scale":{"y":"independent"},"axis":{"x":"independent"}}},
{"width":244,"height":175,"title":"Insertion 6","layer":[
 {"data":{"name":"blue"},"transform":[{"filter":"datum.i==6"}],"mark":{"type":"line","color":"#0000ff","strokeWidth":3.5,"strokeJoin":"round"},"encoding":{"x":{"field":"x","type":"quantitative","scale":{"domain":[-15,29.2],"nice":false,"zero":false},"axis":{"values":[-10,0,10,20]}},"y":{"field":"y","type":"quantitative","scale":{"domain":[0,3.1],"nice":false},"axis":{"orient":"left","values":[0,2]}}}},
 {"data":{"name":"prob"},"transform":[{"filter":"datum.p=='6n'"}],"mark":{"type":"line","color":"#0a7d0a","strokeWidth":3,"strokeJoin":"round"},"encoding":{"x":{"field":"x","type":"quantitative","scale":{"domain":[-15,29.2],"nice":false,"zero":false},"axis":{"orient":"top","values":[-10,0,10,20]}},"y":{"field":"y","type":"quantitative","scale":{"domain":[0,1],"nice":false},"axis":{"orient":"right","values":[0,0.5,1],"format":"~g"}}}}
],"resolve":{"scale":{"y":"independent"},"axis":{"x":"independent"}}},
{"width":244,"height":175,"title":"Insertion 6","layer":[
 {"data":{"name":"blue"},"transform":[{"filter":"datum.i==6"}],"mark":{"type":"line","color":"#0000ff","strokeWidth":3.5,"strokeJoin":"round"},"encoding":{"x":{"field":"x","type":"quantitative","scale":{"domain":[-15,29.2],"nice":false,"zero":false},"axis":{"values":[-10,0,10,20]}},"y":{"field":"y","type":"quantitative","scale":{"domain":[0,3.1],"nice":false},"axis":{"orient":"left","values":[0,2]}}}},
 {"data":{"name":"prob"},"transform":[{"filter":"datum.p=='6p'"}],"mark":{"type":"line","color":"#ff0000","strokeWidth":3,"strokeJoin":"round"},"encoding":{"x":{"field":"x","type":"quantitative","scale":{"domain":[-15,29.2],"nice":false,"zero":false},"axis":{"orient":"top","values":[-10,0,10,20]}},"y":{"field":"y","type":"quantitative","scale":{"domain":[0,1],"nice":false},"axis":{"orient":"right","values":[0,0.5,1],"format":"~g"}}}}
],"resolve":{"scale":{"y":"independent"},"axis":{"x":"independent"}}},

{"width":244,"height":175,"title":"Insertion 7","layer":[
 {"data":{"name":"blue"},"transform":[{"filter":"datum.i==7"}],"mark":{"type":"line","color":"#0000ff","strokeWidth":3.5,"strokeJoin":"round"},"encoding":{"x":{"field":"x","type":"quantitative","scale":{"domain":[-11,30],"nice":false,"zero":false},"axis":{"values":[-10,0,10,20]}},"y":{"field":"y","type":"quantitative","scale":{"domain":[0,3.18],"nice":false},"axis":{"orient":"left","values":[0,2]}}}},
 {"data":{"name":"prob"},"transform":[{"filter":"datum.p=='7n'"}],"mark":{"type":"line","color":"#0a7d0a","strokeWidth":3,"strokeJoin":"round"},"encoding":{"x":{"field":"x","type":"quantitative","scale":{"domain":[-11,30],"nice":false,"zero":false},"axis":{"orient":"top","values":[-10,0,10,20]}},"y":{"field":"y","type":"quantitative","scale":{"domain":[0,1],"nice":false},"axis":{"orient":"right","values":[0,0.5,1],"format":"~g"}}}}
],"resolve":{"scale":{"y":"independent"},"axis":{"x":"independent"}}},
{"width":244,"height":175,"title":"Insertion 7","layer":[
 {"data":{"name":"blue"},"transform":[{"filter":"datum.i==7"}],"mark":{"type":"line","color":"#0000ff","strokeWidth":3.5,"strokeJoin":"round"},"encoding":{"x":{"field":"x","type":"quantitative","scale":{"domain":[-11,30],"nice":false,"zero":false},"axis":{"values":[-10,0,10,20]}},"y":{"field":"y","type":"quantitative","scale":{"domain":[0,3.18],"nice":false},"axis":{"orient":"left","values":[0,2]}}}},
 {"data":{"name":"prob"},"transform":[{"filter":"datum.p=='7p'"}],"mark":{"type":"line","color":"#ff0000","strokeWidth":3,"strokeJoin":"round"},"encoding":{"x":{"field":"x","type":"quantitative","scale":{"domain":[-11,30],"nice":false,"zero":false},"axis":{"orient":"top","values":[-10,0,10,20]}},"y":{"field":"y","type":"quantitative","scale":{"domain":[0,1],"nice":false},"axis":{"orient":"right","values":[0,0.5,1],"format":"~g"}}}}
],"resolve":{"scale":{"y":"independent"},"axis":{"x":"independent"}}},
{"width":244,"height":175,"title":"Insertion 8","layer":[
 {"data":{"name":"blue"},"transform":[{"filter":"datum.i==8"}],"mark":{"type":"line","color":"#0000ff","strokeWidth":3.5,"strokeJoin":"round"},"encoding":{"x":{"field":"x","type":"quantitative","scale":{"domain":[-15.3,28.4],"nice":false,"zero":false},"axis":{"values":[-10,0,10,20]}},"y":{"field":"y","type":"quantitative","scale":{"domain":[0,1.77],"nice":false},"axis":{"orient":"left","values":[0,1]}}}},
 {"data":{"name":"prob"},"transform":[{"filter":"datum.p=='8n'"}],"mark":{"type":"line","color":"#0a7d0a","strokeWidth":3,"strokeJoin":"round"},"encoding":{"x":{"field":"x","type":"quantitative","scale":{"domain":[-15.3,28.4],"nice":false,"zero":false},"axis":{"orient":"top","values":[-10,0,10,20]}},"y":{"field":"y","type":"quantitative","scale":{"domain":[0,1],"nice":false},"axis":{"orient":"right","values":[0,0.5,1],"format":"~g"}}}}
],"resolve":{"scale":{"y":"independent"},"axis":{"x":"independent"}}},
{"width":244,"height":175,"title":"Insertion 8","layer":[
 {"data":{"name":"blue"},"transform":[{"filter":"datum.i==8"}],"mark":{"type":"line","color":"#0000ff","strokeWidth":3.5,"strokeJoin":"round"},"encoding":{"x":{"field":"x","type":"quantitative","scale":{"domain":[-15.3,28.4],"nice":false,"zero":false},"axis":{"values":[-10,0,10,20]}},"y":{"field":"y","type":"quantitative","scale":{"domain":[0,1.77],"nice":false},"axis":{"orient":"left","values":[0,1]}}}},
 {"data":{"name":"prob"},"transform":[{"filter":"datum.p=='8p'"}],"mark":{"type":"line","color":"#ff0000","strokeWidth":3,"strokeJoin":"round"},"encoding":{"x":{"field":"x","type":"quantitative","scale":{"domain":[-15.3,28.4],"nice":false,"zero":false},"axis":{"orient":"top","values":[-10,0,10,20]}},"y":{"field":"y","type":"quantitative","scale":{"domain":[0,1],"nice":false},"axis":{"orient":"right","values":[0,0.5,1],"format":"~g"}}}}
],"resolve":{"scale":{"y":"independent"},"axis":{"x":"independent"}}}
],
"config": {
 "view": {"stroke": null},
 "axis": {"grid": false, "title": null, "labelFont": "Liberation Sans", "labelFontSize": 20, "tickSize": -5, "labelPadding": 14, "domainWidth": 1, "tickWidth": 1},
 "axisBottom": {"labelColor": "#333333", "domainColor": "#000000", "tickColor": "#000000", "labelPadding": 16, "labelExpr": "datum.value < 0 ? '-' + abs(datum.value) : '' + datum.value"},
 "axisTop": {"labels": false, "domainColor": "#333333", "tickColor": "#333333"},
 "axisLeft": {"labelColor": "#1a1aff", "domainColor": "#8c8cff", "tickColor": "#0000ff"},
 "axisRight": {"labelColor": "#1f8f1f", "domainColor": "#6ab56a", "tickColor": "#1a8c1a", "labelPadding": 10},
 "title": {"font": "Liberation Serif", "fontSize": 22, "fontWeight": "normal", "color": "#3a3a3a", "offset": 4}
}
}
